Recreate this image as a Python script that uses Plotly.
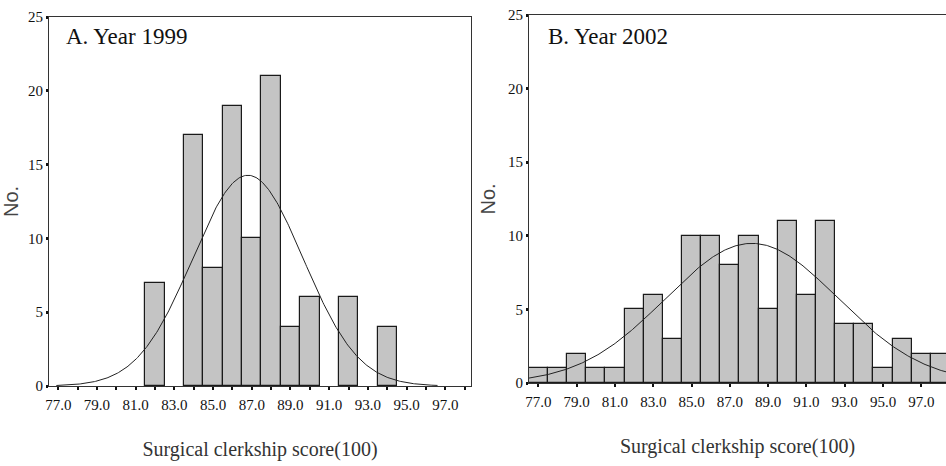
import numpy as np
import plotly.graph_objects as go

# ---- data ----
scores_1999 = [82, 84, 85, 86, 87, 88, 89, 90, 92, 94]
counts_1999 = [7, 17, 8, 19, 10, 21, 4, 6, 6, 4]

scores_2002 = [77, 78, 79, 80, 81, 82, 83, 84, 85, 86, 87, 88, 89, 90, 91, 92, 93, 94, 95, 96, 97, 98]
counts_2002 = [1, 1, 2, 1, 1, 5, 6, 3, 10, 10, 8, 10, 5, 11, 6, 11, 4, 4, 1, 3, 2, 2]

# fitted normal curves (mean, sd, n)
fit_1999 = dict(mean=86.8, sd=2.85, n=102)
fit_2002 = dict(mean=88.15, sd=4.5, n=107)

tick_vals = list(range(77, 99))
tick_text = [f"{v:.1f}" if v % 2 == 1 else "" for v in tick_vals]
y_ticks = [0, 5, 10, 15, 20, 25]

panel_titles = ["A. Year 1999", "B. Year 2002"]
x_title = "Surgical clerkship score(100)"
y_title = "No."


def normal_curve(fit, x0, x1):
    xs = np.linspace(x0, x1, 400)
    ys = fit["n"] / (fit["sd"] * np.sqrt(2 * np.pi)) * np.exp(-0.5 * ((xs - fit["mean"]) / fit["sd"]) ** 2)
    return xs, ys


BAR_FILL = "#c4c4c4"
EDGE = "#1a1a1a"
SERIF = "Liberation Serif"

fig = go.Figure()

fig.add_trace(go.Bar(x=scores_1999, y=counts_1999, width=1, xaxis="x", yaxis="y",
                     marker=dict(color=BAR_FILL, line=dict(color=EDGE, width=1.2)),
                     showlegend=False, hoverinfo="x+y"))
cx, cy = normal_curve(fit_1999, 76.9, 96.6)
fig.add_trace(go.Scatter(x=cx, y=cy, mode="lines", xaxis="x", yaxis="y",
                         line=dict(color="#222222", width=1), showlegend=False))

fig.add_trace(go.Bar(x=scores_2002, y=counts_2002, width=1, xaxis="x2", yaxis="y2",
                     marker=dict(color=BAR_FILL, line=dict(color=EDGE, width=1.2)),
                     showlegend=False, hoverinfo="x+y"))
cx2, cy2 = normal_curve(fit_2002, 76.5, 99.0)
fig.add_trace(go.Scatter(x=cx2, y=cy2, mode="lines", xaxis="x2", yaxis="y2",
                         line=dict(color="#222222", width=1), showlegend=False))

W, H = 946, 466

def xd(a, b):
    return [a / W, b / W]

def yd(top, bottom):
    return [1 - bottom / H, 1 - top / H]

xaxis_common = dict(
    tickmode="array", tickvals=tick_vals, ticktext=tick_text,
    ticks="outside", ticklen=3, tickwidth=2, tickcolor="#111",
    showgrid=False, zeroline=False, showline=True, linecolor="#333", linewidth=1,
    mirror=True, tickfont=dict(family=SERIF, size=15, color="#111"),
    ticklabelstandoff=2, automargin=False,
    title=dict(text=x_title, font=dict(family=SERIF, size=20, color="#333"), standoff=29),
)
yaxis_common = dict(
    range=[0, 25], tickmode="array", tickvals=y_ticks,
    ticks="outside", ticklen=2, tickwidth=3, tickcolor="#111",
    showgrid=False, zeroline=False, showline=True, linecolor="#333", linewidth=1,
    tickfont=dict(family=SERIF, size=15, color="#111"), automargin=False,
    title=dict(text=y_title, font=dict(family="Liberation Sans", size=20, color="#444"), standoff=7),
)

fig.update_layout(
    width=W, height=H,
    margin=dict(l=0, r=0, t=0, b=0, autoexpand=False),
    paper_bgcolor="white", plot_bgcolor="white",
    bargap=0,
    xaxis=dict(xaxis_common, domain=xd(49, 471), range=[76.52, 98.33], anchor="y"),
    yaxis=dict(yaxis_common, domain=yd(17, 386), anchor="x", mirror=True),
    xaxis2=dict(xaxis_common, domain=xd(529, 946), range=[76.51, 98.29], anchor="y2",
                tickvals=[v for v in tick_vals if v % 2 == 1],
                ticktext=[f"{v:.1f}" for v in tick_vals if v % 2 == 1]),
    yaxis2=dict(yaxis_common, domain=yd(15, 383), anchor="x2", mirror=False),
    annotations=[
        dict(text=panel_titles[0], xref="paper", yref="paper", x=64 / W, y=1 - 37 / H,
             xanchor="left", yanchor="middle", showarrow=False,
             font=dict(family=SERIF, size=23, color="#111")),
        dict(text=panel_titles[1], xref="paper", yref="paper", x=546 / W, y=1 - 37 / H,
             xanchor="left", yanchor="middle", showarrow=False,
             font=dict(family=SERIF, size=23, color="#111")),
    ],
)

fig.write_html("out.html", config={"displayModeBar": False},
               post_script="document.body.style.margin='0';document.body.style.overflow='hidden';")
